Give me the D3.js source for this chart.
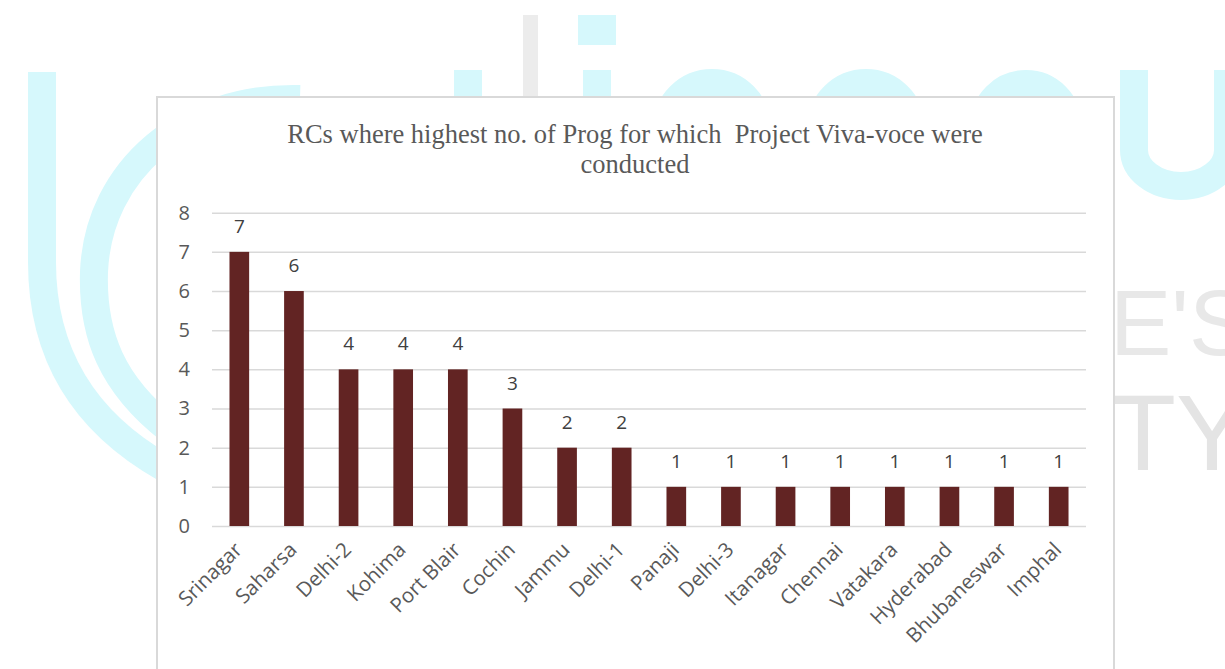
<!DOCTYPE html>
<html>
<head>
<meta charset="utf-8">
<script src="https://cdn.jsdelivr.net/npm/d3@7"></script>
<style>
  body { margin: 0; background: #fff; }
  svg { display: block; }
</style>
</head>
<body>
<div id="chart"></div>
<script>
var width = 1225,
    height = 669;

// chart data
var centres = ["Srinagar", "Saharsa", "Delhi-2", "Kohima", "Port Blair", "Cochin", "Jammu", "Delhi-1",
               "Panaji", "Delhi-3", "Itanagar", "Chennai", "Vatakara", "Hyderabad", "Bhubaneswar", "Imphal"];
var progCount = [7, 6, 4, 4, 4, 3, 2, 2, 1, 1, 1, 1, 1, 1, 1, 1];
var yTicks = [0, 1, 2, 3, 4, 5, 6, 7, 8];
var titleLines = ["RCs where highest no. of Prog for which  Project Viva-voce were", "conducted"];

var svg = d3.select("#chart").append("svg")
    .attr("width", width)
    .attr("height", height);

// faint logo watermark behind the chart
var wm = svg.append("g")
    .attr("fill", "none")
    .attr("stroke", "#d6f8fc")
    .attr("stroke-width", 28);

wm.append("path").attr("d", "M42,72 L42,262 C42,350 80,420 165,468");
wm.append("path").attr("d", "M300,99 C185,96 98,170 94,272 C92,335 112,385 170,430");
wm.append("path").attr("d", "M468,70 L468,110");
wm.append("path").attr("d", "M597,70 L597,110");
wm.append("circle").attr("cx", 712).attr("cy", 128).attr("r", 45);
wm.append("circle").attr("cx", 866).attr("cy", 128).attr("r", 45);
wm.append("circle").attr("cx", 1026).attr("cy", 126).attr("r", 42);
wm.append("path").attr("d", "M1134,70 L1134,150 A47,36 0 0 0 1228,150 L1228,70");
svg.append("rect").attr("x", 578).attr("y", 15).attr("width", 38).attr("height", 30).attr("fill", "#d6f8fc");
svg.append("rect").attr("x", 523).attr("y", 15).attr("width", 15).attr("height", 90).attr("fill", "#ececec");

svg.append("text")
    .attr("x", 1110).attr("y", 355)
    .style("font-family", "Liberation Sans, sans-serif")
    .style("font-size", "92px")
    .attr("fill", "#e8e8e8")
    .text("E'S");
svg.append("text")
    .attr("x", 1110).attr("y", 470)
    .style("font-family", "Liberation Sans, sans-serif")
    .style("font-size", "108px")
    .attr("fill", "#e4e4e4")
    .text("TY");

// chart area
svg.append("rect")
    .attr("x", 157).attr("y", 97)
    .attr("width", 957).attr("height", 600)
    .attr("fill", "#fff")
    .attr("stroke", "#d9d9d9")
    .attr("stroke-width", 2);

svg.append("g")
    .selectAll("text")
    .data(titleLines)
    .enter()
    .append("text")
    .attr("x", 635)
    .attr("y", function(d, i) { return 143 + i * 30; })
    .attr("text-anchor", "middle")
    .style("white-space", "pre")
    .style("font-family", "Liberation Serif, Times New Roman, serif")
    .style("font-size", "26.5px")
    .attr("fill", "#595959")
    .text(function(d) { return d; });

var x = d3.scaleBand()
    .domain(centres)
    .range([212, 1086])
    .paddingInner(0.64)
    .paddingOuter(0.32);

var y = d3.scaleLinear()
    .domain([0, 8])
    .range([526, 212.7]);

var yAxis = svg.append("g")
    .attr("transform", "translate(212,0)")
    .call(d3.axisLeft(y).tickValues(yTicks).tickSize(-874).tickPadding(22));

yAxis.select(".domain").remove();
yAxis.selectAll(".tick line")
    .attr("stroke", "#d9d9d9")
    .attr("stroke-width", 1.5);
yAxis.selectAll(".tick text")
    .attr("fill", "#595959")
    .style("font-family", "Open Sans, sans-serif")
    .style("font-size", "20px");

svg.append("g")
    .selectAll("rect")
    .data(progCount)
    .enter()
    .append("rect")
    .attr("x", function(d, i) { return x(centres[i]); })
    .attr("y", function(d) { return y(d); })
    .attr("width", x.bandwidth())
    .attr("height", function(d) { return y(0) - y(d); })
    .attr("fill", "#622423");

svg.append("g")
    .selectAll("text")
    .data(progCount)
    .enter()
    .append("text")
    .attr("x", function(d, i) { return x(centres[i]) + x.bandwidth() / 2; })
    .attr("y", function(d) { return y(d) - 19; })
    .attr("text-anchor", "middle")
    .style("font-family", "Open Sans, sans-serif")
    .style("font-size", "19px")
    .attr("fill", "#404040")
    .text(function(d) { return d; });

svg.append("g")
    .selectAll("text")
    .data(centres)
    .enter()
    .append("text")
    .attr("transform", function(d) {
        return "translate(" + (x(d) + x.bandwidth() / 2 + 4) + ",551) rotate(-45)";
    })
    .attr("text-anchor", "end")
    .style("font-family", "Open Sans, sans-serif")
    .style("font-size", "20.5px")
    .attr("fill", "#595959")
    .text(function(d) { return d; });
</script>
</body>
</html>
